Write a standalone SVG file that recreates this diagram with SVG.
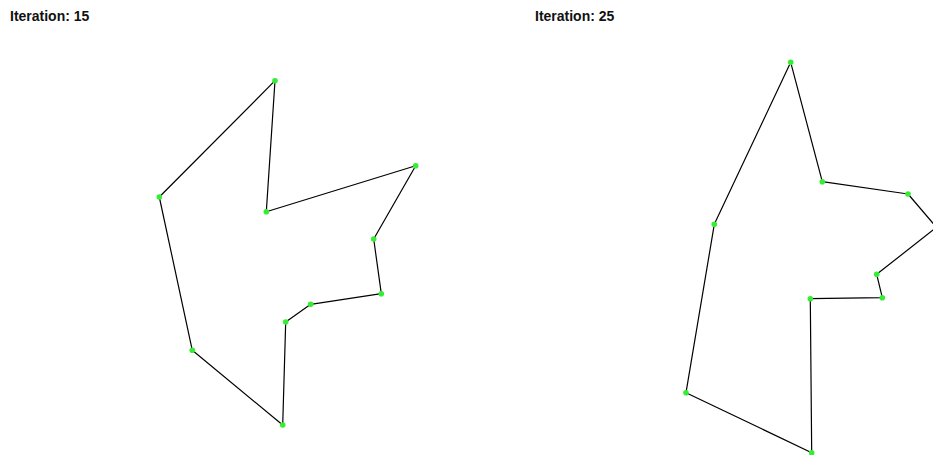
<svg xmlns="http://www.w3.org/2000/svg" width="933" height="455" viewBox="0 0 933 455">
<style>
.title{font-family:"Liberation Sans",Arial,sans-serif;font-weight:bold;font-size:14px;fill:#111}
.edge{fill:none;stroke:#000;stroke-width:1.2;stroke-linejoin:round}
.pt{fill:#33ee33}
</style>
<rect width="933" height="455" fill="#fff"/>
<text class="title" x="10" y="21">Iteration: 15</text>
<text class="title" x="535" y="21">Iteration: 25</text>
<g id="connectors">
<polygon class="edge" points="275,80.7 266.3,211.7 415.7,165.7 373.7,239 381.3,293.7 310.7,304.3 285.7,322 282.7,425 192.3,350.3 159.3,197"/>
<polygon class="edge" points="790.7,62.3 822.3,181.7 908,194 936.5,227.3 876.7,274.3 882.3,297.7 810.3,298.7 811.7,452.7 686,392.7 714.3,224.3"/>
</g>
<g id="n1_1"><circle class="pt" cx="275" cy="80.7" r="2.8"/></g>
<g id="n1_2"><circle class="pt" cx="266.3" cy="211.7" r="2.8"/></g>
<g id="n1_3"><circle class="pt" cx="415.7" cy="165.7" r="2.8"/></g>
<g id="n1_4"><circle class="pt" cx="373.7" cy="239" r="2.8"/></g>
<g id="n1_5"><circle class="pt" cx="381.3" cy="293.7" r="2.8"/></g>
<g id="n1_6"><circle class="pt" cx="310.7" cy="304.3" r="2.8"/></g>
<g id="n1_7"><circle class="pt" cx="285.7" cy="322" r="2.8"/></g>
<g id="n1_8"><circle class="pt" cx="282.7" cy="425" r="2.8"/></g>
<g id="n1_9"><circle class="pt" cx="192.3" cy="350.3" r="2.8"/></g>
<g id="n1_10"><circle class="pt" cx="159.3" cy="197" r="2.8"/></g>
<g id="n2_1"><circle class="pt" cx="790.7" cy="62.3" r="2.8"/></g>
<g id="n2_2"><circle class="pt" cx="822.3" cy="181.7" r="2.8"/></g>
<g id="n2_3"><circle class="pt" cx="908" cy="194" r="2.8"/></g>
<g id="n2_4"><circle class="pt" cx="936.5" cy="227.3" r="2.8"/></g>
<g id="n2_5"><circle class="pt" cx="876.7" cy="274.3" r="2.8"/></g>
<g id="n2_6"><circle class="pt" cx="882.3" cy="297.7" r="2.8"/></g>
<g id="n2_7"><circle class="pt" cx="810.3" cy="298.7" r="2.8"/></g>
<g id="n2_8"><circle class="pt" cx="811.7" cy="452.7" r="2.8"/></g>
<g id="n2_9"><circle class="pt" cx="686" cy="392.7" r="2.8"/></g>
<g id="n2_10"><circle class="pt" cx="714.3" cy="224.3" r="2.8"/></g>
</svg>
